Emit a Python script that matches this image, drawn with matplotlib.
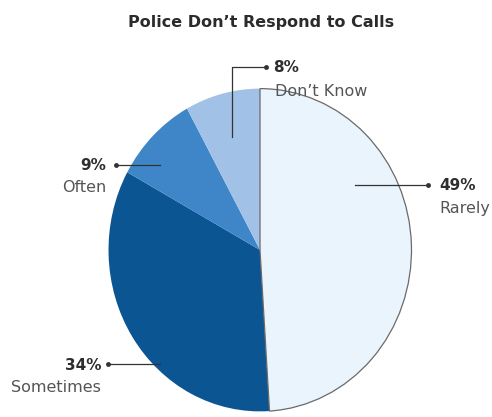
import matplotlib
matplotlib.use("Agg")
import matplotlib.pyplot as plt
from matplotlib.lines import Line2D

categories = ["Rarely", "Sometimes", "Often", "Don\u2019t Know"]
values = [49, 34, 9, 8]
pct_labels = ["49%", "34%", "9%", "8%"]
colors = ["#e9f4fd", "#0b5592", "#3e86c8", "#a2c1e6"]
title = "Police Don\u2019t Respond to Calls"

W, H = 492, 417
fig = plt.figure(figsize=(W / 100, H / 100), dpi=100)
fig.patch.set_facecolor("white")

def px(x, y):
    return (x / W, 1 - y / H)

# pie axes (slightly taller than wide, like the reference)
left, right, top, bottom = 107, 413, 87, 413
ax = fig.add_axes([left / W, (H - bottom) / H, (right - left) / W, (bottom - top) / H])
wedges, _ = ax.pie(values, colors=colors, startangle=90, counterclock=False,
                   wedgeprops=dict(linewidth=0))
wedges[0].set_edgecolor("#6a6a6a")
wedges[0].set_linewidth(0.9)
wedges[0].set_zorder(3)
ax.set_xlim(-1.01, 1.01)
ax.set_ylim(-1.01, 1.01)
ax.set_aspect("auto")
ax.axis("off")

fig.text(*px(261, 23), title, ha="center", va="center", fontsize=11.5,
         fontweight="bold", color="#2b2b2b", family="DejaVu Sans")

bold_kw = dict(fontsize=11, fontweight="bold", color="#2e2e2e", family="DejaVu Sans")
name_kw = dict(fontsize=11.5, color="#555555", family="DejaVu Sans")
line_kw = dict(color="#333333", linewidth=0.9)

def leader(points, dot):
    xs = [px(*p)[0] for p in points]
    ys = [px(*p)[1] for p in points]
    fig.add_artist(Line2D(xs, ys, transform=fig.transFigure, **line_kw))
    fig.add_artist(Line2D([px(*dot)[0]], [px(*dot)[1]], transform=fig.transFigure,
                          marker="o", markersize=2.5, color="#333333", linestyle="none"))

# Rarely
leader([(355, 185), (428, 185)], (428, 185))
fig.text(*px(439, 185), pct_labels[0], ha="left", va="center", **bold_kw)
fig.text(*px(439, 208), categories[0], ha="left", va="center", **name_kw)

# Sometimes
leader([(108, 364), (160, 364)], (108, 364))
fig.text(*px(101, 365), pct_labels[1], ha="right", va="center", **bold_kw)
fig.text(*px(101, 388), categories[1], ha="right", va="center", **name_kw)

# Often
leader([(116, 165), (160, 165)], (116, 165))
fig.text(*px(106, 166), pct_labels[2], ha="right", va="center", **bold_kw)
fig.text(*px(106, 188), categories[2], ha="right", va="center", **name_kw)

# Don't Know
leader([(232, 137), (232, 67), (266, 67)], (266, 67))
fig.text(*px(273, 68), pct_labels[3], ha="left", va="center", **bold_kw)
fig.text(*px(275, 91), categories[3], ha="left", va="center", **name_kw)

fig.savefig("out.png", dpi=100, facecolor="white")
